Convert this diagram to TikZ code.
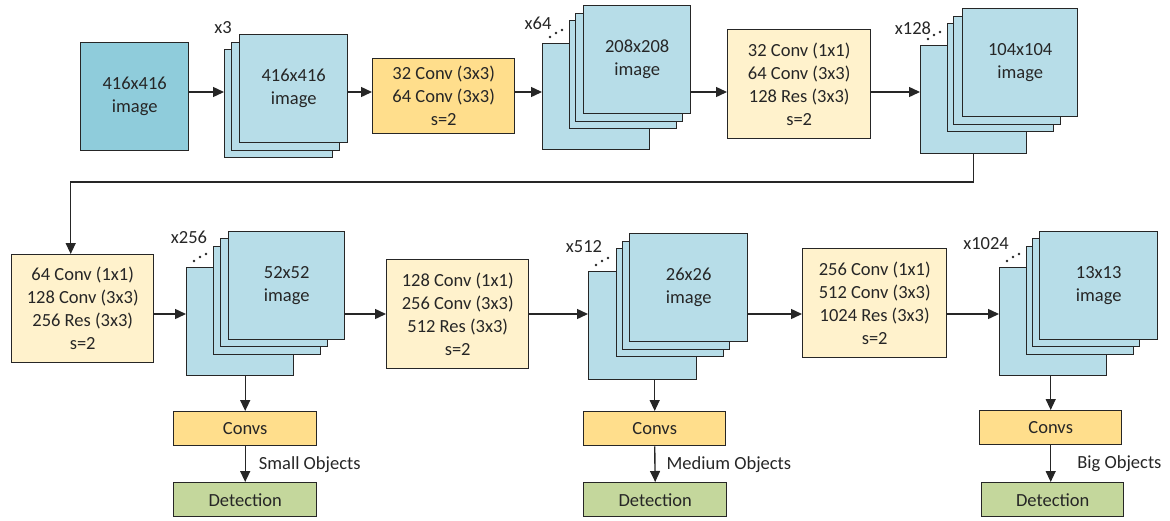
\documentclass[tikz,border=0pt]{standalone}
\usepackage{fontspec}
\setmainfont{Carlito}
\usetikzlibrary{arrows.meta,positioning,calc}
\definecolor{edge}{RGB}{38,38,38}
\definecolor{inp}{RGB}{143,204,219}
\definecolor{fmap}{RGB}{183,221,232}
\definecolor{convA}{RGB}{255,222,140}
\definecolor{convB}{RGB}{255,242,204}
\definecolor{det}{RGB}{196,215,156}
\tikzset{
  >={Triangle[length=11pt,width=10pt]},
  every node/.style={font=\fontsize{18.5pt}{23pt}\selectfont,text=edge,inner sep=0pt},
  box/.style={draw=edge,line width=1.4pt,anchor=north west,align=center},
  layer/.style={box,fill=fmap,minimum width=107,minimum height=108},
  conv/.style={box,fill=convB,minimum width=142,minimum height=109},
  head/.style={box,fill=convA,minimum width=143,minimum height=34},
  detbox/.style={box,fill=det,minimum width=143,minimum height=34},
  link/.style={->,line width=1.4pt,draw=edge},
  dots/.style={fill=edge},
}

\begin{document}
\begin{tikzpicture}[x=1pt,y=-1pt]
  \useasboundingbox (0,0) rectangle (1170,520);
  % arrow levels of the two rows
  \coordinate (row1) at (0,92);
  \coordinate (row2) at (0,314);

  % input
  \node[box,fill=inp,minimum width=108,minimum height=108] (in) at (80,42) {416x416\\image};

  % 416x416 maps
  \node[layer,minimum width=108] (s1a) at (224,49) {};
  \node[layer,minimum width=108] (s1b) at (231,42) {};
  \node[layer,minimum width=108] (s1c) at (239,34) {416x416\\image};
  \node (n1) at (223,28) {x3};

  \node[conv,fill=convA,minimum height=75] (c1) at (372,58) {32 Conv (3x3)\\64 Conv (3x3)\\s=2};

  % 208x208 maps
  \node[layer,minimum height=106] (s2a) at (542,43) {};
  \node[layer] (s2b) at (569,20) {};
  \node[layer] (s2c) at (575,13) {};
  \node[layer] (s2d) at (583,5) {208x208\\image};
  \node (n2) at (538,23) {x64};

  \node[conv,minimum width=143] (c2) at (727,29) {32 Conv (1x1)\\64 Conv (3x3)\\128 Res (3x3)\\s=2};

  % 104x104 maps
  \node[layer,minimum width=106] (s3a) at (920,45) {};
  \node[layer,minimum width=106] (s3b) at (947,23) {};
  \node[layer] (s3c) at (953,16) {};
  \node[layer,minimum width=115] (s3d) at (962,8) {104x104\\image};
  \node (n3) at (913,28) {x128};

  % second row
  \node[conv,minimum height=108] (c3) at (11,254) {64 Conv (1x1)\\128 Conv (3x3)\\256 Res (3x3)\\s=2};

  \node[layer] (s4a) at (186,267) {};
  \node[layer] (s4b) at (213,246) {};
  \node[layer] (s4c) at (220,238) {};
  \node[layer,minimum width=116] (s4d) at (228,231) {52x52\\image};
  \node (n4) at (189,237) {x256};

  \node[conv] (c4) at (386,259) {128 Conv (1x1)\\256 Conv (3x3)\\512 Res (3x3)\\s=2};

  \node[layer,minimum width=108] (s5a) at (588,271) {};
  \node[layer] (s5b) at (616,248) {};
  \node[layer] (s5c) at (622,241) {};
  \node[layer,minimum width=118] (s5d) at (629,233) {26x26\\image};
  \node (n5) at (584,247) {x512};

  \node[conv,minimum width=144] (c5) at (802,248) {256 Conv (1x1)\\512 Conv (3x3)\\1024 Res (3x3)\\s=2};

  \node[layer] (s6a) at (999,267) {};
  \node[layer] (s6b) at (1026,246) {};
  \node[layer] (s6c) at (1032,238) {};
  \node[layer,minimum width=118] (s6d) at (1039,231) {13x13\\image};
  \node (n6) at (986,244) {x1024};

  % ellipsis between back map and the front ones
  \foreach \s in {s2a,s3a,s4a,s5a,s6a}
    \foreach \dx/\dy in {8/-6,14/-10,20/-13}
      \fill[dots] ([shift={(\dx,\dy)}]\s.north west) circle (1.3);

  % heads
  \node[head] (sm) at (173,411) {Convs};
  \node[detbox] (smd) at (173,482) {Detection};
  \node[head,minimum width=142] (md) at (583,411) {Convs};
  \node[detbox] (mdd) at (583,482) {Detection};
  \node[head,minimum width=142] (bg) at (979,410) {Convs};
  \node[detbox,minimum width=142] (bgd) at (981,482) {Detection};

  % main chain
  \draw[link] (in.east |- row1) -- (s1a.west |- row1);
  \draw[link] (s1c.east |- row1) -- (c1.west |- row1);
  \draw[link] (c1.east |- row1) -- (s2a.west |- row1);
  \draw[link] (s2d.east |- row1) -- (c2.west |- row1);
  \draw[link] (c2.east |- row1) -- (s3a.west |- row1);
  \draw[link] (s3a.south) -- (s3a.south |- 0,182) -| ([xshift=-12]c3.north);
  \draw[link] (c3.east |- row2) -- (s4a.west |- row2);
  \draw[link] (s4d.east |- row2) -- (c4.west |- row2);
  \draw[link] (c4.east |- row2) -- (s5a.west |- row2);
  \draw[link] (s5d.east |- row2) -- (c5.west |- row2);
  \draw[link] (c5.east |- row2) -- (s6a.west |- row2);

  % detection branches
  \draw[link] (sm.north |- s4a.south) -- (sm.north);
  \draw[link] (sm.south) -- node[right=13pt] (lsm) {Small Objects} (smd.north);
  \draw[link] (md.north |- s5a.south) -- (md.north);
  \draw[link] (md.south) -- node[right=11pt] (lmd) {Medium Objects} (mdd.north);
  \draw[link] (bg.north |- s6a.south) -- (bg.north);
  \draw[link] (bg.south) -- node[right=26pt] (lbg) {Big Objects} (bg.south |- bgd.north);
\end{tikzpicture}
\end{document}
